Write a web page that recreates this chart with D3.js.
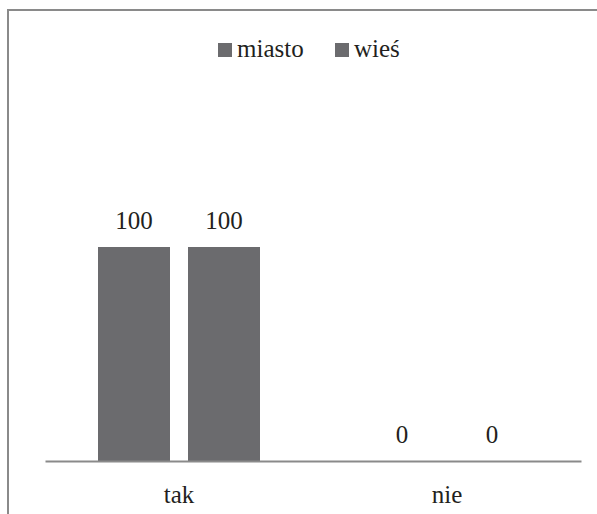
<!DOCTYPE html>
<html>
<head>
<meta charset="utf-8">
<script src="https://cdn.jsdelivr.net/npm/d3@7"></script>
<style>
    html, body { margin: 0; padding: 0; background: #fff; }
    svg { display: block; }
    svg text { font-family: "Liberation Serif", Tinos, "Times New Roman", "DejaVu Serif", serif; fill: #231f20; }
</style>
</head>
<body>
<svg width="597" height="514"></svg>
<script>
// data
var categories = ["tak", "nie"];
var seriesNames = ["miasto", "wieś"];
var miasto = [100, 0];
var wies = [100, 0];

window.onload = main;

function main() {
    var svg = d3.select("svg");
    var barColor = "#6b6b6e";
    var fontSize = 25;

    // chart border (cut off at right and bottom)
    svg.append("rect")
        .attr("x", 8)
        .attr("y", 10)
        .attr("width", 800)
        .attr("height", 800)
        .attr("fill", "none")
        .attr("stroke", "#8a8a8a")
        .attr("stroke-width", 2);

    var rows = categories.map(function (c, i) {
        return { cat: c, values: [miasto[i], wies[i]] };
    });

    var x0 = d3.scaleBand().domain(categories).range([45, 581]);
    var x1 = d3
        .scaleBand()
        .domain(seriesNames)
        .range([53, x0.bandwidth() - 53])
        .paddingInner(0.2);
    var y = d3.scaleLinear().domain([0, 100]).range([461, 247]);

    var groups = svg
        .selectAll("g.cat")
        .data(rows)
        .enter()
        .append("g")
        .attr("class", "cat")
        .attr("transform", function (d) {
            return "translate(" + x0(d.cat) + ",0)";
        });

    groups
        .selectAll("rect")
        .data(function (d) {
            return d.values.map(function (v, i) {
                return { name: seriesNames[i], value: v };
            });
        })
        .enter()
        .append("rect")
        .attr("x", function (d) { return x1(d.name); })
        .attr("y", function (d) { return y(d.value); })
        .attr("width", x1.bandwidth())
        .attr("height", function (d) { return y(0) - y(d.value); })
        .attr("fill", barColor);

    // value labels
    groups
        .selectAll("text.val")
        .data(function (d) {
            return d.values.map(function (v, i) {
                return { name: seriesNames[i], value: v };
            });
        })
        .enter()
        .append("text")
        .attr("class", "val")
        .attr("x", function (d) { return x1(d.name) + x1.bandwidth() / 2; })
        .attr("y", function (d) { return y(d.value) - 18; })
        .attr("text-anchor", "middle")
        .attr("font-size", fontSize)
        .text(function (d) { return d.value; });

    // x axis
    var xAxis = svg
        .append("g")
        .attr("transform", "translate(0," + y(0) + ")")
        .call(d3.axisBottom(x0).tickSize(0).tickPadding(24));
    xAxis.attr("font-family", null);
    xAxis.select(".domain").attr("stroke", "#8a8a8a").attr("stroke-width", 2);
    xAxis
        .selectAll("text")
        .attr("font-size", fontSize)
        .attr("fill", "#231f20");

    // legend
    var legend = svg.append("g").attr("transform", "translate(218,57)");
    var legendX = [0, 117];
    var items = legend
        .selectAll("g")
        .data(seriesNames)
        .enter()
        .append("g")
        .attr("transform", function (d, i) {
            return "translate(" + legendX[i] + ",0)";
        });
    items
        .append("rect")
        .attr("x", 0)
        .attr("y", -14)
        .attr("width", 14)
        .attr("height", 14)
        .attr("fill", barColor);
    items
        .append("text")
        .attr("x", 19)
        .attr("y", 0)
        .attr("font-size", fontSize)
        .text(function (d) { return d; });
}
</script>
</body>
</html>
